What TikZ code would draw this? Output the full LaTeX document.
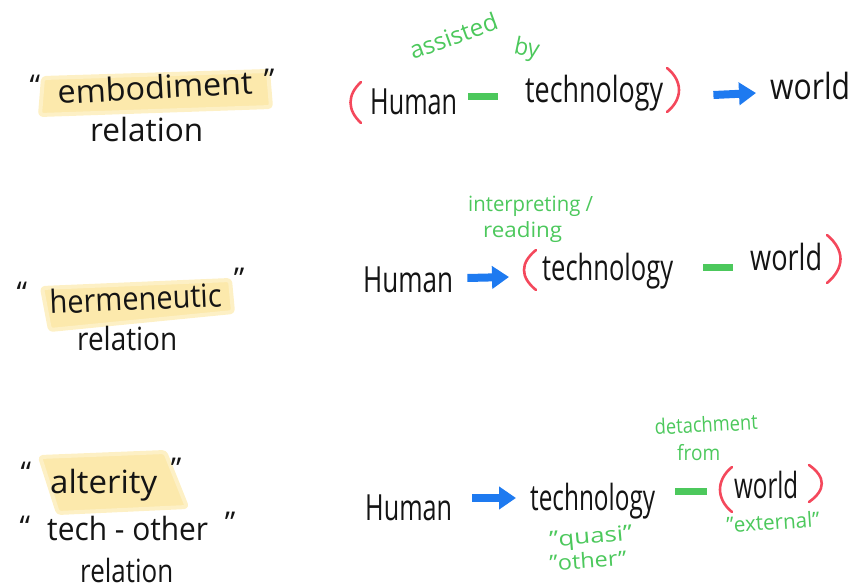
\documentclass[tikz,border=0pt]{standalone}
\usepackage{fontspec}
\usepackage{graphicx}
\setmainfont{Open Sans}
\usetikzlibrary{arrows.meta,calc}

\definecolor{hlyellow}{RGB}{252,233,172}
\definecolor{gr}{RGB}{76,200,92}
\definecolor{bl}{RGB}{30,122,240}
\definecolor{rd}{RGB}{244,72,92}
\definecolor{ink}{RGB}{20,20,20}

% squeeze a word to a given width, keeping its height
\newcommand\fitw[2]{\resizebox{#1pt}{\height}{#2}}

\tikzset{
  word/.style={inner sep=0pt, anchor=base west, text=ink,
    font=\fontsize{36}{36}\selectfont},
  label/.style={word, font=\fontsize{32}{32}\selectfont},
  note/.style={word, text=gr, font=\fontsize{21}{21}\selectfont},
  quote/.style={inner sep=0pt, anchor=base, text=ink,
    font=\fontsize{30}{30}\selectfont},
  band/.style={fill=hlyellow, draw=hlyellow!70, line width=4pt,
    line join=round, rounded corners=3pt},
  bluearrow/.style={draw=bl, line width=8pt,
    -{Triangle[length=17pt,width=22pt,fill=bl]}},
  greendash/.style={draw=gr, line width=7pt},
  paren/.style={draw=rd, line width=2.6pt, line cap=round}
}

\begin{document}
\begin{tikzpicture}[x=1pt,y=-1pt]
\useasboundingbox (0,0) rectangle (855,583);

% highlighter strokes behind the relation names
\path[band] (43,78) -- (268,71) -- (271,107) -- (40,115) -- cycle;
\path[band] (42,288) -- (230,280) -- (233,312) -- (50,330) -- cycle;
\path[band] (40,457) -- (165,452) -- (187,507) -- (58,513) -- cycle;

% ---------- embodiment relation ----------
\node[quote] (q1l) at (35,97) {“};
\node[label, rotate=3] (emb) at (58,104) {\fitw{195}{embodiment}};
\node[quote] (q1r) at (269,91) {”};
\node[label] (rel1) at (90,142) {\fitw{113}{relation}};

\node[word] (hum1) at (370,115) {\fitw{87}{Human}};
\node[word] (tec1) at (525,103) {\fitw{138}{technology}};
\node[word] (wor1) at (770,100) {\fitw{80}{world}};
\node[note, rotate=20, font=\fontsize{24}{24}\selectfont] (ass) at (413,60) {\fitw{92}{assisted}};
\node[note, rotate=-12, font=\fontsize{24}{24}\selectfont] (by) at (513,53) {\fitw{25}{by}};

\draw[paren] (361,82) .. controls (347,95) and (347,110) .. (361,123);
\draw[paren] (667,68) .. controls (683,81) and (683,99) .. (667,112);
\draw[greendash] ($(hum1.base east)+(11,-18)$) -- ($(tec1.base west)+(-27,-6)$);
\draw[bluearrow] ($(tec1.base east)+(50,-8)$) -- ($(wor1.base west)+(-14,-7)$);

% ---------- hermeneutic relation ----------
\node[quote] (q2l) at (22,303) {“};
\node[label, rotate=2.5] (her) at (50,314) {\fitw{172}{hermeneutic}};
\node[quote] (q2r) at (239,289) {”};
\node[label] (rel2) at (77,350) {\fitw{100}{relation}};

\node[word] (hum2) at (363,292) {\fitw{90}{Human}};
\node[word] (tec2) at (542,280) {\fitw{131}{technology}};
\node[word] (wor2) at (750,270) {\fitw{72}{world}};
\node[note] (int) at (468,212) {\fitw{125}{interpreting /}};
\node[note] (rea) at (483,237) {\fitw{79}{reading}};

\draw[paren] (536,250) .. controls (520,263) and (520,277) .. (536,290);
\draw[paren] (827,235) .. controls (845,250) and (845,268) .. (827,283);
\draw[bluearrow] ($(hum2.base east)+(14,-14)$) -- ($(tec2.base west)+(-33,-3)$);
\draw[greendash] ($(tec2.base east)+(30,-13)$) -- ($(wor2.base west)+(-17,-3)$);

% ---------- alterity relation ----------
\node[quote] (q3l) at (26,483) {“};
\node[label] (alt) at (50,493) {\fitw{107}{alterity}};
\node[quote] (q3r) at (176,479) {”};
\node[quote] (q4l) at (25,537) {“};
\node[label] (tot) at (47,540) {\fitw{161}{tech - other}};
\node[quote] (q4r) at (230,533) {”};
\node[label] (rel3) at (80,582) {\fitw{93}{relation}};

\node[word] (hum3) at (365,520) {\fitw{87}{Human}};
\node[word] (tec3) at (530,510) {\fitw{125}{technology}};
\node[word] (wor3) at (734,498) {\fitw{64}{world}};
\node[note, rotate=3] (det) at (655,435) {\fitw{103}{detachment}};
\node[note] (fro) at (677,460) {\fitw{43}{from}};
\node[note, rotate=5] (qua) at (550,547) {\fitw{83}{"quasi"}};
\node[note, rotate=4] (oth) at (550,571) {\fitw{77}{"other"}};
\node[note, rotate=4] (ext) at (727,533) {\fitw{93}{"external"}};

\draw[paren] (732,467) .. controls (716,480) and (716,499) .. (732,512);
\draw[paren] (809,465) .. controls (826,477) and (826,490) .. (809,502);
\draw[bluearrow] ($(hum3.base east)+(20,-22)$) -- ($(tec3.base west)+(-14,-12)$);
\draw[greendash] ($(tec3.base east)+(20,-19)$) -- ($(wor3.base west)+(-27,-7)$);

\end{tikzpicture}
\end{document}
